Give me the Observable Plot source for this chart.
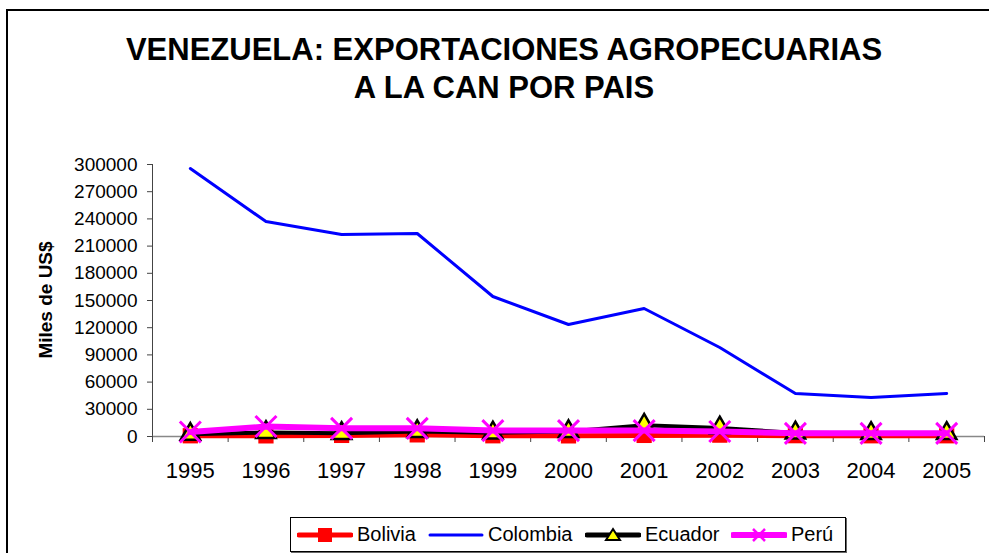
<!DOCTYPE html>
<html>
<head>
<meta charset="utf-8">
<script src="https://cdn.jsdelivr.net/npm/d3@7"></script>
<script src="https://cdn.jsdelivr.net/npm/@observablehq/plot@0.6"></script>
<style>
  html, body { margin: 0; padding: 0; background: #fff; }
  body { width: 989px; height: 553px; overflow: hidden; font-family: "Liberation Sans", Arial, sans-serif; }
  #wrap { position: relative; width: 989px; height: 553px; }
  #frame { position: absolute; left: 6px; top: 9px; width: 1000px; height: 600px; border: 2px solid #000; box-sizing: border-box; }
  #title { position: absolute; left: 0; width: 1008px; top: 31px; text-align: center; font-weight: bold; font-size: 31px; line-height: 38px; color: #000; }
  #ylab { position: absolute; left: 46px; top: 300px; transform: translate(-50%, -50%) rotate(-90deg); white-space: nowrap; font-weight: bold; font-size: 19px; color: #000; }
  #chart { position: absolute; left: 0; top: 0; }
  #legend { position: absolute; left: 290px; top: 517px; width: 554px; height: 33px; border: 1px solid #000; box-shadow: 1px 1px 0 #666; background: #fff; }
  .item { position: absolute; top: 0; height: 33px; display: flex; align-items: center; font-size: 20px; color: #000; }
  .item svg { margin-right: 4px; }
</style>
</head>
<body>
<div id="wrap">
  <div id="frame"></div>
  <div id="title">VENEZUELA: EXPORTACIONES AGROPECUARIAS<br>A LA CAN POR PAIS</div>
  <div id="chart"></div>
  <div id="ylab">Miles de US$</div>
  <div id="legend"></div>
</div>
<script>
const years = [1995, 1996, 1997, 1998, 1999, 2000, 2001, 2002, 2003, 2004, 2005];
const bolivia  = [800, 700, 1200, 1800, 800, 700, 1200, 1500, 900, 800, 800];
const colombia = [295600, 237100, 222800, 223900, 154400, 123500, 141200, 98200, 47400, 43000, 47400];
const ecuador  = [2500, 4500, 3500, 5500, 4000, 5500, 12500, 9500, 4000, 3500, 3500];
const peru     = [5000, 11000, 9000, 9000, 6500, 6500, 6500, 5500, 3500, 3500, 3500];
const yTicks = [0, 30000, 60000, 90000, 120000, 150000, 180000, 210000, 240000, 270000, 300000];
const seriesNames = ["Bolivia", "Colombia", "Ecuador", "Perú"];
const seriesColors = ["#ff0000", "#0000ff", "#000000", "#ff00ff"];

const boundaries = [...years.map(y => y - 0.5), years[years.length - 1] + 0.5];
const toRows = vals => years.map((y, i) => ({year: y, value: vals[i]}));

const timesSymbol = {
  draw(context, size) {
    const r = Math.sqrt(size / Math.PI);
    context.moveTo(-r, -r); context.lineTo(r, r);
    context.moveTo(r, -r); context.lineTo(-r, r);
  }
};

const chart = Plot.plot({
  width: 989,
  height: 553,
  marginLeft: 152,
  marginRight: 5,
  marginTop: 164,
  marginBottom: 117,
  style: {background: "transparent", fontFamily: "Liberation Sans, Arial, sans-serif", color: "#000", overflow: "visible"},
  x: {type: "linear", domain: [years[0] - 0.5, years[years.length - 1] + 0.5]},
  y: {domain: [0, 300000]},
  marks: [
    Plot.ruleX([years[0] - 0.5], {y1: 0, y2: 300000, stroke: "#444", strokeWidth: 1}),
    Plot.ruleY([0], {stroke: "#888", strokeWidth: 1.5}),
    Plot.axisY(yTicks, {tickSize: 5, tickPadding: 10, fontSize: 19, stroke: "#444", tickFormat: d => String(d), label: null}),
    Plot.axisX(boundaries, {tickSize: 6, stroke: "#444", tickFormat: () => "", label: null}),
    Plot.axisX(years, {tickSize: 0, tickPadding: 26, fontSize: 22, tickFormat: d => String(d), label: null}),
    // Bolivia
    Plot.line(toRows(bolivia), {x: "year", y: "value", stroke: seriesColors[0], strokeWidth: 5}),
    Plot.dot(toRows(bolivia), {x: "year", y: "value", symbol: "square", r: 8.6, fill: seriesColors[0], stroke: "none"}),
    // Colombia
    Plot.line(toRows(colombia), {x: "year", y: "value", stroke: seriesColors[1], strokeWidth: 3}),
    // Ecuador
    Plot.line(toRows(ecuador), {x: "year", y: "value", stroke: seriesColors[2], strokeWidth: 4}),
    Plot.dot(toRows(ecuador), {x: "year", y: "value", symbol: "triangle", r: 7.2, fill: "#ffff00", stroke: "#000", strokeWidth: 2.5}),
    // Perú
    Plot.line(toRows(peru), {x: "year", y: "value", stroke: seriesColors[3], strokeWidth: 6}),
    Plot.dot(toRows(peru), {x: "year", y: "value", symbol: timesSymbol, r: 10.5, fill: "none", stroke: seriesColors[3], strokeWidth: 3})
  ]
});
document.getElementById("chart").appendChild(chart);

// Legend
const legend = document.getElementById("legend");
const itemLeft = [6, 137, 294, 440];
const swatchMarker = [
  '<rect x="21" y="3" width="14" height="14" fill="#ff0000"/>',
  '',
  '<path d="M28,4 L35,15 L21,15 Z" fill="#ffff00" stroke="#000" stroke-width="2"/>',
  '<path d="M22,4 L34,16 M34,4 L22,16" stroke="#ff00ff" stroke-width="2.5"/>'
];
const swatchWidth = [5, 3, 5, 6];
seriesNames.forEach((name, i) => {
  const div = document.createElement("div");
  div.className = "item";
  div.style.left = itemLeft[i] + "px";
  div.innerHTML = `<svg width="56" height="20"><line x1="2" x2="54" y1="10" y2="10" stroke="${seriesColors[i]}" stroke-width="${swatchWidth[i]}" stroke-linecap="round"/>${swatchMarker[i]}</svg><span>${name}</span>`;
  legend.appendChild(div);
});
</script>
</body>
</html>
